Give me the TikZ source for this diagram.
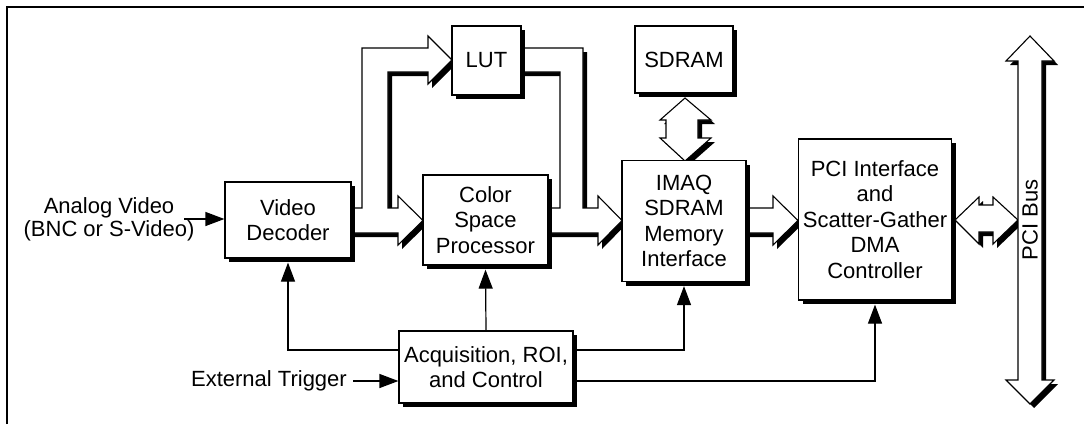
\documentclass[tikz,border=0pt]{standalone}
\usepackage{fontspec}
\setmainfont{Liberation Sans}
\usetikzlibrary{arrows.meta}
\newcommand\shbox[6]{%
  \fill[shad] (#2-#4/2+4,#3-#5/2+4) rectangle ++(#4,#5);
  \node[box, minimum width=#4pt, minimum height=#5pt] (#1) at (#2,#3) {#6};}
\newcommand\fatpath[1]{%
  \fill[shad,shift={(4,4)}] #1;
  \path[fat] #1;}
\begin{document}
\begin{tikzpicture}[x=1pt,y=-1pt,
  lbl/.style={font=\fontsize{22}{25.5}\selectfont, align=center, text=black},
  box/.style={lbl, draw=black, line width=1.2pt, fill=white, inner sep=0pt},
  shad/.style={fill=black},
  fat/.style={draw=black, line width=1.1pt, fill=white, line join=miter},
  ctl/.style={draw=black, line width=1.2pt, -{Triangle[length=19pt,width=14pt]}},
  frameline/.style={line width=2.2pt, line join=miter}]
\useasboundingbox (0,0) rectangle (1084,424);
\draw[frameline] (7,424) -- (7,7) -- (1084,7);

% fat arrows
\fatpath{(351,208) -- (362,208) -- (362,48) -- (428,48) -- (428,36) -- (452,60) -- (428,84) -- (428,72) -- (388,72) -- (388,208) -- (398,208) -- (398,196) -- (423,220.5) -- (398,245) -- (398,233) -- (351,233) -- cycle}
\fatpath{(521,48) -- (583,48) -- (583,208) -- (598,208) -- (598,196) -- (622,220.5) -- (598,245) -- (598,233) -- (548,233) -- (548,208) -- (560,208) -- (560,72) -- (521,72) -- cycle}
\fatpath{(746,208) -- (773,208) -- (773,196) -- (798,220.5) -- (773,245) -- (773,233) -- (746,233) -- cycle}
\fatpath{(685,98) -- (711,120) -- (698,120) -- (698,138) -- (711,138) -- (685,161) -- (660,138) -- (666,138) -- (666,120) -- (660,120) -- cycle}
\fatpath{(955,220) -- (979,197) -- (979,205) -- (993,205) -- (993,197) -- (1018,220) -- (993,244) -- (993,232) -- (979,232) -- (979,244) -- cycle}
\fatpath{(1030,36) -- (1054,61) -- (1042,61) -- (1042,380) -- (1054,380) -- (1030,404) -- (1006,380) -- (1018,380) -- (1018,61) -- (1006,61) -- cycle}
\node[lbl, rotate=90] (bus) at (1030,220) {PCI Bus};

% boxes
\shbox{vd}{288}{220}{126}{76}{Video\\Decoder}
\shbox{csp}{485.5}{220}{125}{90}{Color\\Space\\Processor}
\shbox{lut}{486.5}{60.5}{69}{69}{LUT}
\shbox{sdram}{684}{59.5}{98}{67}{SDRAM}
\shbox{imaq}{684}{221}{124}{121}{IMAQ\\SDRAM\\Memory\\Interface}
\shbox{pci}{875}{219.5}{153}{161}{PCI Interface\\and\\Scatter-Gather\\DMA\\Controller}
\shbox{acq}{486}{367}{174}{72}{Acquisition, ROI,\\and Control}

% inputs
\node[lbl, inner sep=0pt, font=\fontsize{22}{23}\selectfont] (analog) at (109,219) {Analog Video\\(BNC or S-Video)};
\coordinate (ain) at (184,219);
\draw[ctl] (ain) -- (vd.west |- ain);
\node[lbl, inner sep=0pt, anchor=east] (ext) at (347,381) {External Trigger};
\draw[ctl] ([xshift=6pt]ext.east) -- (acq.west |- ext.east);

% control lines
\draw[ctl] ([yshift=17pt]acq.west) -| ([yshift=-4pt]vd.south);
\draw[ctl] (acq.north) -- ([yshift=-4pt]csp.south);
\draw[ctl] ([yshift=17pt]acq.east) -| ([yshift=-4pt]imaq.south);
\draw[ctl] ([yshift=-14pt]acq.east) -| ([yshift=-4pt]pci.south);
\end{tikzpicture}
\end{document}
